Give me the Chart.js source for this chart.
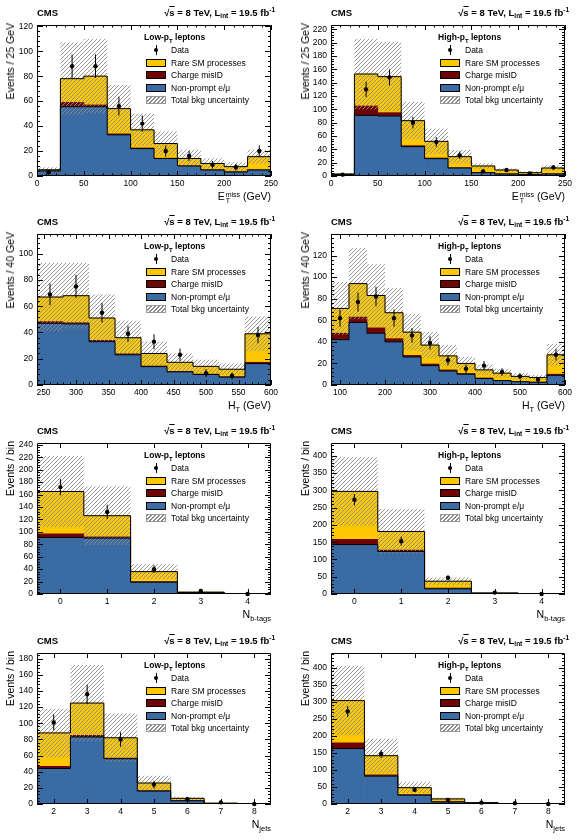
<!DOCTYPE html>
<html>
<head>
<meta charset="utf-8">
<title>Same-sign dilepton backgrounds</title>
<script src="https://cdn.jsdelivr.net/npm/chart.js@4.4.1/dist/chart.umd.min.js"></script>
<style>
  body { margin: 0; background: #fff; }
  #page { position: relative; width: 584px; height: 840px; overflow: hidden;
          font-family: "Liberation Sans", Arial, Helvetica, sans-serif; color: #000; }
  .panel { position: absolute; width: 292px; height: 210px; }
  .panel canvas { position: absolute; left: 0; top: 0; }
  .hdr { position: absolute; top: 8px; font-weight: bold; font-size: 9.5px; line-height: 9.5px; white-space: nowrap; }
  .hdr sub { font-size: 6.5px; line-height: 0; vertical-align: -2px; }
  .hdr sup { font-size: 6.5px; line-height: 0; vertical-align: 4px; }
  .ov { text-decoration: overline; }
  .ytitle { position: absolute; width: 12px; font-size: 10.5px; line-height: 12px; white-space: nowrap;
            writing-mode: vertical-rl; transform: rotate(180deg); }
  .xtitle { position: absolute; font-size: 10.5px; line-height: 12px; white-space: nowrap; }
  .xtitle sub { font-size: 7.5px; line-height: 0; vertical-align: -3px; }
  .ss { display: inline-block; vertical-align: -3px; font-size: 7px; line-height: 6px; margin-left: 1px; }
  .ss span { display: block; }
  .leg-title { position: absolute; font-weight: bold; font-size: 8.5px; line-height: 10px; white-space: nowrap; }
  .leg-title sub { font-size: 6px; line-height: 0; vertical-align: -2.5px; }
  .leg-text { position: absolute; font-size: 8.5px; line-height: 10px; white-space: nowrap; }
  .sw { position: absolute; width: 20px; height: 8px; box-sizing: border-box; border: 1px solid #000; }
  .dot { position: absolute; width: 4px; height: 4px; border-radius: 50%; background: #000; }
  .vbar { position: absolute; width: 1px; height: 10px; background: #000; }
</style>
</head>
<body>
<div id="page"></div>
<script>
// ---- E_T^miss, 25 GeV bins ----
const metEdges = [0, 25, 50, 75, 100, 125, 150, 175, 200, 225, 250];
const metTicks = [0, 50, 100, 150, 200, 250];

const metLowNonprompt = [4, 55.5, 55.5, 33, 22, 14, 8, 4.8, 3.2, 4.8];
const metLowMisid = [0.2, 3.5, 1.5, 0.8, 0.5, 0.3, 0.2, 0.2, 0.2, 0.2];
const metLowRare = [0.8, 19, 23, 20.2, 14.5, 11.7, 5.8, 5, 4.1, 10.5];
const metLowUnc = [2, 29, 30, 19, 13, 9.7, 7, 4, 3.5, 5.5];
const metLowData = [3, 88, 88, 56, 42, 20, 16, 9, 7, 20];
const metLowErr = [1.7, 9.4, 9.4, 7.5, 6.5, 4.5, 4, 3, 2.6, 4.5];
const metLowYTicks = [0, 20, 40, 60, 80, 100, 120];

const metHighNonprompt = [2, 91, 90, 44, 26, 12, 5, 3, 2, 3];
const metHighMisid = [0.2, 14, 5, 1.5, 1, 0.5, 0.3, 0.2, 0.1, 0.2];
const metHighRare = [0.8, 48, 54, 37.5, 25, 16.5, 9.7, 5.8, 2.9, 8.8];
const metHighUnc = [1.5, 53, 52, 28, 19, 10, 4, 2.5, 2, 4];
const metHighData = [2, 130, 148, 80, 51, 31, 7, 9, 4, 13];
const metHighErr = [1.4, 11.4, 12.2, 8.9, 7.1, 5.6, 2.6, 3, 2, 3.6];
const metHighYTicks = [0, 20, 40, 60, 80, 100, 120, 140, 160, 180, 200, 220];

// ---- H_T, 40 GeV bins ----
const htLowEdges = [240, 280, 320, 360, 400, 440, 480, 520, 560, 600];
const htLowTicks = [250, 300, 350, 400, 450, 500, 550, 600];
const htLowNonprompt = [47, 46.5, 33, 23, 14, 10, 8, 6, 16.3];
const htLowMisid = [1.3, 1, 1, 0.8, 0.5, 0.4, 0.3, 0.3, 1];
const htLowRare = [18.7, 20.5, 17, 12.2, 9.5, 6.9, 5.9, 5.7, 21.7];
const htLowUnc = [26, 25, 18, 13, 9, 6.7, 5.1, 4.3, 13];
const htLowData = [69, 75, 55, 39, 33, 23, 9, 7, 38];
const htLowErr = [8.3, 8.7, 7.4, 6.2, 5.7, 4.8, 3, 2.6, 6.2];
const htLowYTicks = [0, 20, 40, 60, 80, 100];

const htHighEdges = [80, 120, 160, 200, 240, 280, 320, 360, 400, 440, 480, 520, 560, 600];
const htHighTicks = [100, 200, 300, 400, 500, 600];
const htHighNonprompt = [42, 58, 48, 40, 26, 18, 13, 10, 6, 4, 3, 2.5, 9];
const htHighMisid = [6, 5, 5, 3, 1.5, 1.5, 1, 0.7, 0.5, 0.3, 0.2, 0.2, 1];
const htHighRare = [23, 31, 30, 24, 21.5, 17.5, 13, 9.3, 7.5, 6.7, 4.8, 4.3, 18];
const htHighUnc = [24.5, 33, 29, 23, 17, 12, 10, 6, 5, 4, 3, 2.5, 10];
const htHighData = [62, 77, 82, 62, 46, 39, 23, 15, 18, 12, 8, 5, 28];
const htHighErr = [7.9, 8.8, 9, 7.9, 6.8, 6.2, 4.8, 3.9, 4.2, 3.5, 2.8, 2.2, 5.3];
const htHighYTicks = [0, 20, 40, 60, 80, 100, 120];

// ---- N b-tags ----
const nbCats = [0, 1, 2, 3, 4];
const nbLowNonprompt = [91, 90, 19, 2, 0];
const nbLowMisid = [6, 2, 1, 0.2, 0];
const nbLowRare = [68, 34, 16, 0.8, 0];
const nbLowUnc = [57, 47, 12, 1, 0];
const nbLowData = [172, 132, 40, 5, 0];
const nbLowErr = [13, 11.5, 6.3, 2.2, 0];
const nbLowYTicks = [0, 20, 40, 60, 80, 100, 120, 140, 160, 180, 200, 220, 240];

const nbHighNonprompt = [143, 123, 15, 2, 0];
const nbHighMisid = [15, 4, 2, 0.2, 0];
const nbHighRare = [139, 54, 20, 0.8, 0];
const nbHighUnc = [99, 64, 11, 1, 0];
const nbHighData = [273, 153, 47, 4, 0];
const nbHighErr = [16.5, 12.4, 6.9, 2, 0];
const nbHighYTicks = [0, 50, 100, 150, 200, 250, 300, 350, 400];

// ---- N jets ----
const njCats = [2, 3, 4, 5, 6, 7, 8];
const njLowNonprompt = [44, 83, 56, 16, 4, 0.7, 0];
const njLowMisid = [2.5, 2, 1, 0.5, 0.2, 0, 0];
const njLowRare = [41.5, 40, 25, 9.5, 2.8, 0.3, 0];
const njLowUnc = [30, 47, 30, 9, 2, 0.5, 0];
const njLowData = [101, 136, 80, 24, 6, 2, 0];
const njLowErr = [10, 11.7, 8.9, 4.9, 2.4, 1.4, 0];
const njLowYTicks = [0, 20, 40, 60, 80, 100, 120, 140, 160, 180];

const njHighNonprompt = [163, 82, 26, 6, 2, 0.3, 0];
const njHighMisid = [17, 4, 2, 1, 0.2, 0, 0];
const njHighRare = [124, 56, 20, 8, 1.8, 0.2, 0];
const njHighUnc = [102, 50, 16, 4, 1, 0.3, 0];
const njHighData = [272, 147, 42, 12, 4, 2, 0];
const njHighErr = [16.5, 12.1, 6.5, 3.5, 2, 1.4, 0];
const njHighYTicks = [0, 50, 100, 150, 200, 250, 300, 350, 400];

const legendLabels = ['Data', 'Rare SM processes', 'Charge misID', 'Non-prompt e/μ', 'Total bkg uncertainty'];

// ---- styling ----
const FONT = '"Liberation Sans", Arial, Helvetica, sans-serif';
const YELLOW = '#fdc800';
const MISID = '#6e0404';
const BLUE = '#3a6ba3';
const ROW_TOPS = [0, 209, 418, 628];

Chart.defaults.font.family = FONT;
Chart.defaults.color = '#000';

const catEdges = cats => cats.map(c => c - 0.5).concat(cats[cats.length - 1] + 0.5);

const METX = 'E<span class="ss"><span>miss</span><span>T</span></span> (GeV)';
const HTX = 'H<sub>T</sub> (GeV)';

const panels = [
  { row: 0, col: 0, low: true, edges: metEdges, xTicks: metTicks, xMinor: 10, yTicks: metLowYTicks, yMax: 121, yMinor: 4,
    nonprompt: metLowNonprompt, misid: metLowMisid, rare: metLowRare, unc: metLowUnc, data: metLowData, err: metLowErr,
    yTitle: 'Events / 25 GeV', xTitle: METX },
  { row: 0, col: 1, low: false, edges: metEdges, xTicks: metTicks, xMinor: 10, yTicks: metHighYTicks, yMax: 226.5, yMinor: 4,
    nonprompt: metHighNonprompt, misid: metHighMisid, rare: metHighRare, unc: metHighUnc, data: metHighData, err: metHighErr,
    yTitle: 'Events / 25 GeV', xTitle: METX },
  { row: 1, col: 0, low: true, edges: htLowEdges, xTicks: htLowTicks, xMinor: 10, yTicks: htLowYTicks, yMax: 115, yMinor: 4,
    nonprompt: htLowNonprompt, misid: htLowMisid, rare: htLowRare, unc: htLowUnc, data: htLowData, err: htLowErr,
    yTitle: 'Events / 40 GeV', xTitle: HTX },
  { row: 1, col: 1, low: false, edges: htHighEdges, xTicks: htHighTicks, xMinor: 20, yTicks: htHighYTicks, yMax: 140, yMinor: 4,
    nonprompt: htHighNonprompt, misid: htHighMisid, rare: htHighRare, unc: htHighUnc, data: htHighData, err: htHighErr,
    yTitle: 'Events / 40 GeV', xTitle: HTX },
  { row: 2, col: 0, low: true, edges: catEdges(nbCats), xTicks: nbCats, xMinor: 0, yTicks: nbLowYTicks, yMax: 243, yMinor: 4,
    nonprompt: nbLowNonprompt, misid: nbLowMisid, rare: nbLowRare, unc: nbLowUnc, data: nbLowData, err: nbLowErr,
    yTitle: 'Events / bin', xTitle: 'N<sub>b-tags</sub>' },
  { row: 2, col: 1, low: false, edges: catEdges(nbCats), xTicks: nbCats, xMinor: 0, yTicks: nbHighYTicks, yMax: 437, yMinor: 10,
    nonprompt: nbHighNonprompt, misid: nbHighMisid, rare: nbHighRare, unc: nbHighUnc, data: nbHighData, err: nbHighErr,
    yTitle: 'Events / bin', xTitle: 'N<sub>b-tags</sub>' },
  { row: 3, col: 0, low: true, edges: catEdges(njCats), xTicks: njCats, xMinor: 0, yTicks: njLowYTicks, yMax: 187, yMinor: 4,
    nonprompt: njLowNonprompt, misid: njLowMisid, rare: njLowRare, unc: njLowUnc, data: njLowData, err: njLowErr,
    yTitle: 'Events / bin', xTitle: 'N<sub>jets</sub>' },
  { row: 3, col: 1, low: false, edges: catEdges(njCats), xTicks: njCats, xMinor: 0, yTicks: njHighYTicks, yMax: 444, yMinor: 10,
    nonprompt: njHighNonprompt, misid: njHighMisid, rare: njHighRare, unc: njHighUnc, data: njHighData, err: njHighErr,
    yTitle: 'Events / bin', xTitle: 'N<sub>jets</sub>' }
];

function hatchPattern() {
  const c = document.createElement('canvas');
  c.width = 4; c.height = 4;
  const g = c.getContext('2d');
  g.strokeStyle = '#8c8c8c';
  g.lineWidth = 0.9;
  g.beginPath();
  g.moveTo(0, 4); g.lineTo(4, 0);
  g.moveTo(-1, 1); g.lineTo(1, -1);
  g.moveTo(3, 5); g.lineTo(5, 3);
  g.stroke();
  return g.createPattern(c, 'repeat');
}
const HATCH = hatchPattern();

// frame with inward ticks on all four sides (ROOT style)
const frameTicks = {
  id: 'frameTicks',
  afterDatasetsDraw(chart, args, opts) {
    const { ctx, chartArea: a, scales: { x, y } } = chart;
    ctx.save();
    ctx.strokeStyle = '#000';
    ctx.lineWidth = 1;
    ctx.beginPath();
    const ymark = (v, len) => {
      const py = Math.round(y.getPixelForValue(v)) + 0.5;
      ctx.moveTo(a.left, py); ctx.lineTo(a.left + len, py);
      ctx.moveTo(a.right, py); ctx.lineTo(a.right - len, py);
    };
    const xmark = (v, len) => {
      const px = Math.round(x.getPixelForValue(v)) + 0.5;
      ctx.moveTo(px, a.bottom); ctx.lineTo(px, a.bottom - len);
      ctx.moveTo(px, a.top); ctx.lineTo(px, a.top + len);
    };
    opts.yTicks.forEach(v => ymark(v, 6));
    for (let k = Math.ceil(y.min / opts.yMinor); k * opts.yMinor <= y.max; k++) ymark(k * opts.yMinor, 3);
    opts.xTicks.forEach(v => xmark(v, 5));
    if (opts.xMinor) {
      for (let k = Math.ceil(x.min / opts.xMinor); k * opts.xMinor <= x.max; k++) xmark(k * opts.xMinor, 2.5);
    }
    ctx.rect(Math.round(a.left) + 0.5, Math.round(a.top) + 0.5, Math.round(a.width) - 1, Math.round(a.height) - 1);
    ctx.stroke();
    ctx.restore();
  }
};

function makePanel(p) {
  const L = p.col === 0 ? 37 : 39;
  const R = L + 234;
  const T = 25, B = 176;
  const box = document.createElement('div');
  box.className = 'panel';
  box.style.left = (p.col * 292) + 'px';
  box.style.top = ROW_TOPS[p.row] + 'px';
  const cv = document.createElement('canvas');
  cv.width = 292; cv.height = 210;
  box.appendChild(cv);

  const LX = L + 109;
  let html = '';
  html += `<div class="hdr" style="left:${L}px">CMS</div>`;
  html += `<div class="hdr" style="right:${292 - R - 4}px">√<span class="ov">s</span> = 8 TeV, L<sub>int</sub> = 19.5 fb<sup>-1</sup></div>`;
  html += `<div class="ytitle" style="left:${p.col === 0 ? 4 : 7}px;top:${T - 2}px">${p.yTitle}</div>`;
  html += `<div class="xtitle" style="right:${292 - R}px;top:${B + 14}px">${p.xTitle}</div>`;
  html += `<div class="leg-title" style="left:${LX - 2}px;top:${T + 7}px">${p.low ? 'Low' : 'High'}-p<sub>T</sub> leptons</div>`;
  const swatches = [null, `background:${YELLOW}`, `background:${MISID}`, `background:${BLUE}`,
    'background:repeating-linear-gradient(135deg,#8c8c8c 0 0.9px,#fff 0.9px 2.8px);border-color:#999'];
  legendLabels.forEach((lab, i) => {
    const cy = T + 25 + 12.5 * i;
    if (i === 0) {
      html += `<div class="vbar" style="left:${LX + 9.5}px;top:${cy - 5}px"></div>`;
      html += `<div class="dot" style="left:${LX + 8}px;top:${cy - 2}px"></div>`;
    } else {
      html += `<div class="sw" style="left:${LX}px;top:${cy - 4}px;${swatches[i]}"></div>`;
    }
    html += `<div class="leg-text" style="left:${LX + 25}px;top:${cy - 5}px">${lab}</div>`;
  });
  box.insertAdjacentHTML('beforeend', html);
  document.getElementById('page').appendChild(box);

  const edges = p.edges;
  const centers = edges.slice(0, -1).map((e, i) => (e + edges[i + 1]) / 2);
  const zeros = centers.map(() => 0);
  const lvl1 = p.nonprompt;
  const lvl2 = lvl1.map((v, i) => v + p.misid[i]);
  const lvl3 = lvl2.map((v, i) => v + p.rare[i]);
  const span = (lo, hi) => centers.map((c, i) => ({ x: c, y: [lo[i], hi[i]] }));
  const step = lv => edges.map((e, i) => ({ x: e, y: lv[Math.min(i, lv.length - 1)] }));
  const bar = { type: 'bar', grouped: false, barPercentage: 1, categoryPercentage: 1, borderWidth: 0 };
  const outline = lv => ({ type: 'line', data: step(lv), stepped: true, borderColor: '#000', borderWidth: 1,
    pointRadius: 0, fill: false, order: 4 });
  const tickFont = { family: FONT, size: 8.5 };

  new Chart(cv, {
    type: 'bar',
    data: {
      datasets: [
        { ...bar, label: 'Non-prompt e/μ', data: span(zeros, lvl1), backgroundColor: BLUE, order: 6 },
        { ...bar, label: 'Charge misID', data: span(lvl1, lvl2), backgroundColor: MISID, order: 6 },
        { ...bar, label: 'Rare SM processes', data: span(lvl2, lvl3), backgroundColor: YELLOW, order: 6 },
        { ...bar, label: 'Total bkg uncertainty',
          data: span(lvl3.map((v, i) => Math.max(0, v - p.unc[i])), lvl3.map((v, i) => v + p.unc[i])),
          backgroundColor: HATCH, inflateAmount: 0, order: 5 },
        outline(lvl1),
        outline(lvl3),
        { ...bar, label: 'Data error', data: span(p.data.map((v, i) => v - p.err[i]), p.data.map((v, i) => v + p.err[i])),
          backgroundColor: '#000', maxBarThickness: 1, inflateAmount: 0, order: 2 },
        { type: 'line', label: 'Data', data: centers.map((c, i) => ({ x: c, y: p.data[i] })), showLine: false,
          pointRadius: 2.2, pointBackgroundColor: '#000', pointBorderWidth: 0, clip: false, order: 1 }
      ]
    },
    options: {
      responsive: false,
      animation: false,
      devicePixelRatio: 1,
      events: [],
      layout: { padding: { left: 0, right: 292 - R, top: T, bottom: 0 } },
      plugins: {
        legend: { display: false },
        tooltip: { enabled: false },
        frameTicks: { xTicks: p.xTicks, xMinor: p.xMinor, yTicks: p.yTicks, yMinor: p.yMinor }
      },
      scales: {
        x: {
          type: 'linear', min: edges[0], max: edges[edges.length - 1], offset: false,
          grid: { display: false, drawTicks: false }, border: { display: false },
          afterBuildTicks: s => { s.ticks = p.xTicks.map(v => ({ value: v })); },
          afterFit: s => { s.height = 210 - B; },
          ticks: { autoSkip: false, maxRotation: 0, padding: 3, font: tickFont, color: '#000' }
        },
        y: {
          type: 'linear', min: 0, max: p.yMax,
          grid: { display: false, drawTicks: false }, border: { display: false },
          afterBuildTicks: s => { s.ticks = p.yTicks.map(v => ({ value: v })); },
          afterFit: s => { s.width = L; },
          ticks: { autoSkip: false, padding: 4, font: tickFont, color: '#000' }
        }
      }
    },
    plugins: [frameTicks]
  });
}

panels.forEach(makePanel);
</script>
</body>
</html>
